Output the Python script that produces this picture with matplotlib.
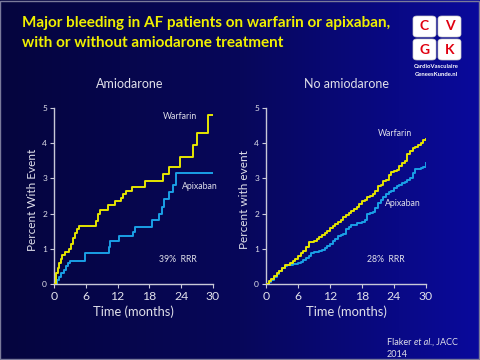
import matplotlib
matplotlib.use("Agg")
import matplotlib.pyplot as plt
import numpy as np
from matplotlib.colors import LinearSegmentedColormap
from matplotlib.patches import FancyBboxPatch, Rectangle

# ---------------- data ----------------
amio_warf_t = [0, 0.4, 0.7, 1.0, 1.3, 1.6, 2.0, 2.8, 3.2, 3.6, 4.0, 4.4, 4.8, 8.0, 8.3, 8.6,
               10.1, 11.6, 12.6, 13.1, 13.6, 14.8, 17.2, 20.6, 21.7, 23.7, 26.3, 26.9, 29.1, 30]
amio_warf_v = [0, 0.3, 0.45, 0.6, 0.72, 0.82, 0.9, 1.0, 1.15, 1.3, 1.45, 1.55, 1.65, 1.8, 2.0, 2.1,
               2.25, 2.35, 2.45, 2.55, 2.65, 2.75, 2.92, 3.12, 3.33, 3.62, 3.95, 4.3, 4.8, 4.8]

amio_apix_t = [0, 0.5, 1.0, 1.4, 1.8, 2.2, 2.6, 3.0, 5.9, 10.3, 10.6, 12.2, 14.9, 15.2, 18.4,
               19.9, 20.3, 20.8, 21.7, 22.5, 23.0, 30]
amio_apix_v = [0, 0.1, 0.2, 0.3, 0.4, 0.5, 0.6, 0.65, 0.87, 1.05, 1.22, 1.36, 1.47, 1.62, 1.82,
               2.0, 2.2, 2.42, 2.62, 2.8, 3.14, 3.14]

noam_warf_t = [0, 0.5, 1, 1.5, 2, 2.5, 3, 3.5, 4.5, 5, 5.5, 6, 6.5, 7, 7.5, 8,
               9, 9.5, 10, 10.5, 11, 11.5, 12, 12.5, 13, 13.5, 14, 14.5, 15, 15.5, 16, 16.5,
               17, 17.5, 18, 18.5, 19, 19.5, 20, 20.5, 21, 21.5, 22, 22.5, 23, 23.5, 24, 24.5,
               25, 25.5, 26, 26.5, 27, 27.5, 28, 28.5, 29, 29.5, 30]
noam_warf_v = [0.0, 0.08, 0.15, 0.22, 0.3, 0.36, 0.45, 0.55, 0.6, 0.65, 0.72, 0.8, 0.88, 0.95, 1.05, 1.2,
               1.22, 1.27, 1.33, 1.38, 1.45, 1.5, 1.58, 1.65, 1.7, 1.75, 1.82, 1.9, 1.95, 2.02, 2.08, 2.12,
               2.2, 2.28, 2.35, 2.4, 2.48, 2.5, 2.56, 2.65, 2.78, 2.82, 2.92, 2.95, 3.1, 3.18, 3.22, 3.25,
               3.35, 3.45, 3.5, 3.7, 3.78, 3.85, 3.9, 3.95, 4.0, 4.08, 4.12]

noam_apix_t = [0, 0.5, 1, 1.5, 2, 2.5, 3, 3.5, 4, 5, 6, 6.5, 7, 7.5, 8, 8.5, 9, 10, 10.5, 11,
               11.5, 12, 12.5, 13, 13.5, 14, 14.5, 15, 15.5, 16, 17, 18, 18.5, 19, 19.5, 20,
               20.5, 21, 21.5, 22, 22.5, 23, 23.5, 24, 24.5, 25, 25.5, 26, 26.5, 27, 27.5, 28,
               29, 29.5, 30]
noam_apix_v = [0, 0.05, 0.12, 0.2, 0.28, 0.38, 0.45, 0.5, 0.54, 0.58, 0.6, 0.62, 0.68, 0.74, 0.8,
               0.88, 0.9, 0.93, 0.97, 1.02, 1.08, 1.15, 1.22, 1.28, 1.35, 1.4, 1.42, 1.55, 1.62,
               1.67, 1.72, 1.75, 1.82, 1.98, 2.02, 2.05, 2.15, 2.3, 2.4, 2.48, 2.55, 2.6, 2.65,
               2.72, 2.78, 2.82, 2.86, 2.9, 2.95, 3.0, 3.15, 3.28, 3.3, 3.32, 3.45]

x_ticks = [0, 6, 12, 18, 24, 30]
y_ticks = [0, 1, 2, 3, 4, 5]

panel_titles = ["Amiodarone", "No amiodarone"]
y_labels = ["Percent With Event", "Percent with event"]
rrr_labels = ["39%  RRR", "28%  RRR"]

# ---------------- style ----------------
YEL = "#e6e600"
BLU = "#1aa0e6"
AXC = "#c8c8d8"
TXT = "#e0e0ea"
FONT = ["Lato", "DejaVu Sans"]
plt.rcParams["font.family"] = FONT

fig = plt.figure(figsize=(4.8, 3.6), dpi=100)

# background gradient
bg = fig.add_axes([0, 0, 1, 1], zorder=-10)
cmap = LinearSegmentedColormap.from_list("bg", ["#05053e", "#07075a", "#0a0a9c"])
grad = np.linspace(0, 1, 256).reshape(1, -1)
bg.imshow(grad, aspect="auto", cmap=cmap, extent=[0, 1, 0, 1])
bg.set_xlim(0, 1); bg.set_ylim(0, 1)
bg.axis("off")
bg.add_patch(Rectangle((0.001, 0.002), 0.997, 0.996, fill=False, ec="#7a7a9a", lw=1.0,
                       transform=bg.transAxes))

# title
fig.text(22/480, 1 - 27/360, "Major bleeding in AF patients on warfarin or apixaban,",
         color="#f0f000", fontsize=11.0, fontweight="bold", va="baseline", ha="left")
fig.text(22/480, 1 - 47/360, "with or without amiodarone treatment",
         color="#f0f000", fontsize=11.0, fontweight="bold", va="baseline", ha="left")

# logo
boxes = [(413, 16, "C"), (438, 16, "V"), (413, 39, "G"), (438, 39, "K")]
for (bx, by, letter) in boxes:
    w, h = 23, 21
    p = FancyBboxPatch((bx/480, 1 - (by + h)/360), w/480, h/360,
                       boxstyle="round,pad=0,rounding_size=0.008",
                       transform=fig.transFigure, fc="white", ec="#cccccc", lw=0.5)
    fig.add_artist(p)
    fig.text((bx + w/2)/480, 1 - (by + h/2)/360, letter, color="#e00010",
             fontsize=10, fontweight="bold", ha="center", va="center")
fig.text(436/480, 1 - 67/360, "CardioVasculaire", color="white", fontsize=4.2,
         fontweight="bold", ha="center", va="center")
fig.text(436/480, 1 - 75/360, "GeneesKunde.nl", color="white", fontsize=4.2,
         fontweight="bold", ha="center", va="center")

# citation
t1 = fig.text(387/480, 1 - 347/360, "Flaker ", color=TXT, fontsize=6.5, ha="left", va="bottom")
t2 = fig.text(0, 0, "et al.", color=TXT, fontsize=6.5, style="italic", ha="left", va="bottom")
t2.set_position((0, 0))
t2.remove()
a2 = fig.add_artist(matplotlib.text.Annotation("et al.", xy=(1, 0), xycoords=t1,
                                               color=TXT, fontsize=6.5, style="italic",
                                               ha="left", va="bottom"))
a3 = fig.add_artist(matplotlib.text.Annotation(", JACC", xy=(1, 0), xycoords=a2,
                                               color=TXT, fontsize=6.5,
                                               ha="left", va="bottom"))
fig.text(387/480, 1 - 357/360, "2014", color=TXT, fontsize=6.5, ha="left", va="baseline")

# panels
axes_pos = [[54/480, 1 - 284/360, 159/480, 176/360],
            [266/480, 1 - 284/360, 160/480, 176/360]]
series = [((amio_warf_t, amio_warf_v), (amio_apix_t, amio_apix_v)),
          ((noam_warf_t, noam_warf_v), (noam_apix_t, noam_apix_v))]
warf_lab_pos = [(180, 117), (395, 133)]
apix_lab_pos = [(200, 186), (403, 203)]
rrr_pos = [(178, 259), (386, 259)]
title_pos = [130, 346]
ylab_x = [32, 245]
xlab_y = 312

for i in range(2):
    ax = fig.add_axes(axes_pos[i])
    ax.set_facecolor("none")
    (wt, wv), (at, av) = series[i]
    ax.plot(wt, wv, drawstyle="steps-post", color=YEL, lw=1.4, zorder=3)
    ax.plot(at, av, drawstyle="steps-post", color=BLU, lw=1.4, zorder=2)
    ax.set_xlim(0, 30)
    ax.set_ylim(0, 5)
    ax.set_xticks(x_ticks)
    ax.set_yticks(y_ticks)
    for s in ["top", "right"]:
        ax.spines[s].set_visible(False)
    for s in ["left", "bottom"]:
        ax.spines[s].set_color(AXC)
        ax.spines[s].set_linewidth(1.0)
    ax.tick_params(axis="x", colors=AXC, labelcolor=TXT, labelsize=8.8, length=3, width=0.8, pad=2)
    ax.tick_params(axis="y", colors=AXC, labelcolor=TXT, labelsize=6, length=3, width=0.8, pad=2)
    ax.set_xticklabels([str(t) for t in x_ticks])
    ax.set_yticklabels([str(t) for t in y_ticks])

    fig.text(title_pos[i]/480, 1 - 84/360, panel_titles[i], color=TXT, fontsize=9,
             ha="center", va="center")
    fig.text(ylab_x[i]/480, 1 - 200/360, y_labels[i], color=TXT, fontsize=8.5,
             rotation=90, ha="center", va="center")
    cx = (axes_pos[i][0] + axes_pos[i][2]/2)
    fig.text(cx, 1 - xlab_y/360, "Time (months)", color=TXT, fontsize=9.3,
             ha="center", va="center")
    fig.text(warf_lab_pos[i][0]/480, 1 - warf_lab_pos[i][1]/360, "Warfarin", color=TXT,
             fontsize=6.3, ha="center", va="center")
    fig.text(apix_lab_pos[i][0]/480, 1 - apix_lab_pos[i][1]/360, "Apixaban", color=TXT,
             fontsize=6.3, ha="center", va="center")
    fig.text(rrr_pos[i][0]/480, 1 - rrr_pos[i][1]/360, rrr_labels[i], color=TXT,
             fontsize=6.3, ha="center", va="center")

fig.savefig("out.png", dpi=100)
